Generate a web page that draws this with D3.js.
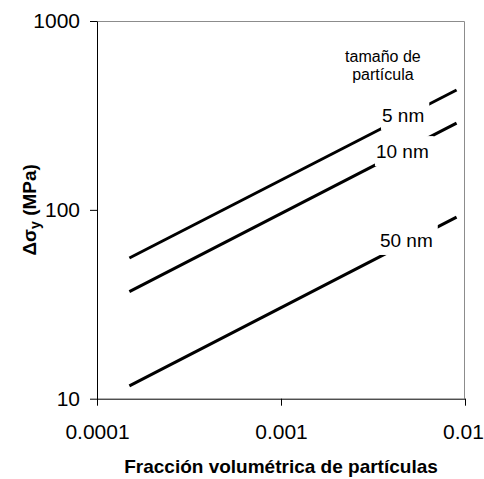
<!DOCTYPE html>
<html>
<head>
<meta charset="utf-8">
<script src="https://cdn.jsdelivr.net/npm/d3@7"></script>
<style>
  html, body { margin: 0; padding: 0; background: #fff; }
  svg { display: block; font-family: Arial, "Liberation Sans", sans-serif; }
</style>
</head>
<body>
<svg id="chart" width="484" height="479"></svg>
<script>
// Strengthening increment vs. particle volume fraction, per particle size
const sizes = ["5 nm", "10 nm", "50 nm"];
const fractions = [0.00015, 0.009];
const stress5nm = [55.6, 431];
const stress10nm = [36.9, 288];
const stress50nm = [11.7, 91.6];
const seriesValues = [stress5nm, stress10nm, stress50nm];

// where each size label sits (volume fraction, MPa at baseline)
const labelFraction = [0.00354, 0.00328, 0.00345];
const labelStress = [292, 188, 63.6];

const xTicks = [0.0001, 0.001, 0.01];
const xTickLabels = ["0.0001", "0.001", "0.01"];
const yTicks = [10, 100, 1000];
const yTickLabels = ["10", "100", "1000"];

const legendTitle = ["tamaño de", "partícula"];
const legendTitleStress = [607, 486];
const legendTitleFraction = 0.00358;

const W = 484, H = 479;
const margin = { top: 21, right: 19, bottom: 80.3, left: 97 };
const iw = W - margin.left - margin.right;
const ih = H - margin.top - margin.bottom;

const svg = d3.select("#chart");
const g = svg.append("g").attr("transform", `translate(${margin.left},${margin.top})`);

const x = d3.scaleLog().domain([0.0001, 0.01]).range([0, iw]);
const y = d3.scaleLog().domain([10, 1000]).range([ih, 0]);

// plot-area frame (top and right edges are grey)
g.append("path")
  .attr("d", `M0,0.5H${iw - 0.5}V${ih}`)
  .attr("fill", "none")
  .attr("stroke", "#8c8c8c")
  .attr("stroke-width", 1);

const series = sizes.map((s, i) => ({
  name: s,
  pts: fractions.map((f, j) => [f, seriesValues[i][j]])
}));

const line = d3.line().x(d => x(d[0])).y(d => y(d[1]));

g.selectAll("path.series")
  .data(series)
  .join("path")
  .attr("class", "series")
  .attr("d", d => line(d.pts))
  .attr("fill", "none")
  .attr("stroke", "#000")
  .attr("stroke-width", 3);

// size labels on white boxes that interrupt the lines
sizes.forEach((s, i) => {
  const lx = x(labelFraction[i]);
  const ly = y(labelStress[i]);
  const t = g.append("text")
    .attr("x", lx)
    .attr("y", ly)
    .attr("font-size", 19)
    .attr("fill", "#000")
    .text(s);
  const bb = t.node().getBBox();
  g.insert("rect", "text")
    .attr("x", bb.x - 1)
    .attr("y", ly - 22)
    .attr("width", bb.width + 6)
    .attr("height", 30)
    .attr("fill", "#fff");
});

legendTitle.forEach((txt, i) => {
  g.append("text")
    .attr("x", x(legendTitleFraction))
    .attr("y", y(legendTitleStress[i]))
    .attr("text-anchor", "middle")
    .attr("font-size", 16)
    .attr("fill", "#000")
    .text(txt);
});

// axes
const xAxis = d3.axisBottom(x)
  .tickValues(xTicks)
  .tickFormat((d, i) => xTickLabels[i])
  .tickSize(7)
  .tickSizeOuter(0)
  .tickPadding(18);
const gx = g.append("g").attr("transform", `translate(0,${ih})`).call(xAxis);
gx.select(".domain").attr("stroke", "#000");
gx.selectAll(".tick line").attr("stroke", "#000");
gx.selectAll("text").attr("font-size", 21).attr("font-family", "Arial, 'Liberation Sans', sans-serif").attr("fill", "#000");
// keep the last label inside the page edge
gx.selectAll(".tick text").filter((d, i, n) => i === n.length - 1).attr("dx", -2);

const yAxis = d3.axisLeft(y)
  .tickValues(yTicks)
  .tickFormat((d, i) => yTickLabels[i])
  .tickSize(7)
  .tickSizeOuter(0)
  .tickPadding(10);
const gy = g.append("g").call(yAxis);
gy.select(".domain").attr("stroke", "#000");
gy.selectAll(".tick line").attr("stroke", "#000");
gy.selectAll("text").attr("font-size", 21).attr("font-family", "Arial, 'Liberation Sans', sans-serif").attr("fill", "#000");

// axis titles
svg.append("text")
  .attr("x", margin.left + iw / 2)
  .attr("y", 473)
  .attr("text-anchor", "middle")
  .attr("font-size", 19)
  .attr("font-weight", "bold")
  .text("Fracción volumétrica de partículas");

const yt = svg.append("text")
  .attr("transform", `translate(36,${margin.top + ih / 2}) rotate(-90)`)
  .attr("text-anchor", "middle")
  .attr("font-size", 19)
  .attr("font-weight", "bold");
yt.append("tspan").text("Δσ");
yt.append("tspan").attr("font-size", 14).attr("dy", 4).text("y");
yt.append("tspan").attr("dy", -4).text(" (MPa)");
</script>
</body>
</html>
